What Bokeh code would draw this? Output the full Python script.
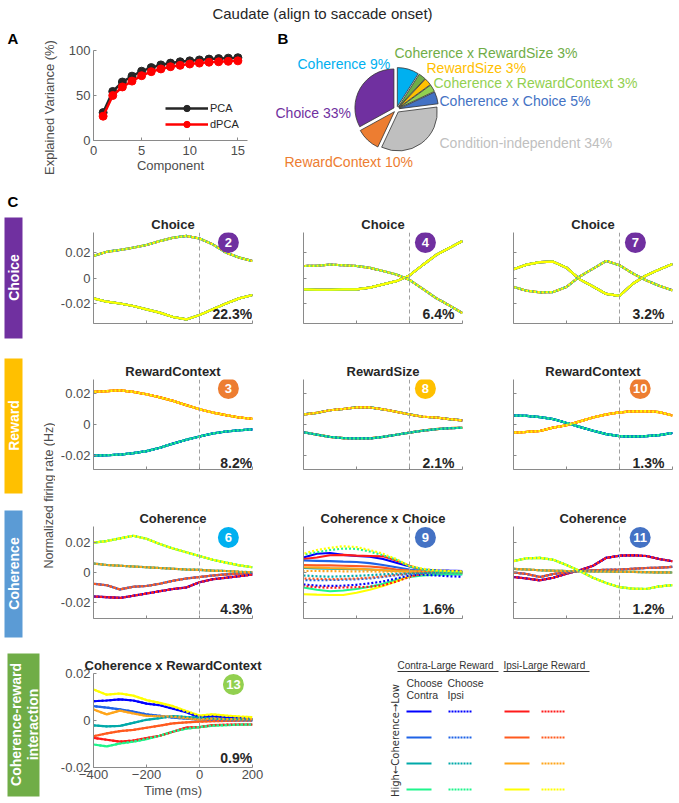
import numpy as np
from bokeh.plotting import figure
from bokeh.layouts import row, column
from bokeh.models import Range1d, FixedTicker, Span, Label, Legend, LegendItem
from bokeh.core.properties import value
from bokeh.embed import file_html
from bokeh.resources import INLINE

FONT = "Liberation Sans"

# ---------------- data ----------------
TIME_MS = [-400, -350, -300, -250, -200, -150, -100, -50, 0, 50, 100, 150, 200]

COMPONENTS = list(range(1, 16))
PCA_VAR = [31, 54.5, 65, 71.5, 77, 81, 84, 86, 87.5, 88.5, 89.5, 90.5, 91, 91.5, 92]
DPCA_VAR = [27, 50, 59.5, 66, 72, 76.5, 79.5, 82, 83.5, 85, 86, 87, 87.5, 88, 88.5]

PIE_LABELS = ["Coherence", "Coherence x RewardSize", "RewardSize", "Coherence x RewardContext",
              "Coherence x Choice", "Condition-independent", "RewardContext", "Choice"]
PIE_PCT = [9, 3, 3, 3, 5, 34, 10, 33]
PIE_COLORS = ["#00b0f0", "#70ad47", "#ffc000", "#92d050", "#4472c4", "#bfbfbf", "#ed7d31", "#7030a0"]

CONTRA_COLORS = ["#0000ff", "#1f63e6", "#00a9a9", "#1ff58c"]
IPSI_COLORS = ["#ff1a1a", "#ff5a1f", "#ffa51a", "#ffff00"]

# Choice #2
C2_CHOOSE_IPSI = [0.0173, 0.0206, 0.0220, 0.0238, 0.0259, 0.0290, 0.0316, 0.0330, 0.0310, 0.0264, 0.0199, 0.0160, 0.0133]
C2_CHOOSE_CONTRA = [-0.0160, -0.0186, -0.0200, -0.0220, -0.0246, -0.0272, -0.0306, -0.0325, -0.0290, -0.0246, -0.0200, -0.0160, -0.0133]
# Choice #4
C4_CHOOSE_IPSI = [0.0094, 0.0096, 0.0105, 0.0100, 0.0094, 0.0080, 0.0055, 0.0028, -0.0015, -0.0085, -0.0157, -0.0215, -0.0275]
C4_CHOOSE_CONTRA = [-0.0089, -0.0092, -0.0092, -0.0090, -0.0089, -0.0075, -0.0050, -0.0025, 0.0020, 0.0102, 0.0180, 0.0235, 0.0290]
# Choice #7
C7_CHOOSE_CONTRA = [0.0068, 0.0105, 0.0125, 0.0128, 0.0081, -0.0011, -0.0067, -0.0125, -0.0140, -0.0045, 0.0020, 0.0067, 0.0110]
C7_CHOOSE_IPSI = [-0.0070, -0.0100, -0.0113, -0.0110, -0.0070, 0.0012, 0.0073, 0.0134, 0.0100, 0.0036, -0.0018, -0.0061, -0.0097]
# RewardContext #3
C3_CONTRA_LARGE = [-0.0200, -0.0198, -0.0194, -0.0185, -0.0172, -0.0150, -0.0123, -0.0098, -0.0077, -0.0058, -0.0045, -0.0037, -0.0032]
C3_IPSI_LARGE = [0.0210, 0.0215, 0.0220, 0.0210, 0.0195, 0.0175, 0.0152, 0.0125, 0.0098, 0.0077, 0.0060, 0.0045, 0.0037]
# RewardSize #8
C8_LARGE = [0.0065, 0.0075, 0.0092, 0.0100, 0.0110, 0.0110, 0.0098, 0.0082, 0.0065, 0.0050, 0.0045, 0.0035, 0.0026]
C8_SMALL = [-0.0050, -0.0065, -0.0080, -0.0088, -0.0090, -0.0090, -0.0080, -0.0066, -0.0052, -0.0040, -0.0030, -0.0024, -0.0021]
# RewardContext #10
C10_CONTRA_LARGE = [0.0058, 0.0055, 0.0048, 0.0035, 0.0010, -0.0015, -0.0040, -0.0062, -0.0075, -0.0078, -0.0075, -0.0068, -0.0055]
C10_IPSI_LARGE = [-0.0052, -0.0048, -0.0042, -0.0020, -0.0005, 0.0020, 0.0045, 0.0065, 0.0078, 0.0085, 0.0086, 0.0080, 0.0058]
# Coherence #6 (levels 1..4)
C6_LEVEL1 = [-0.0160, -0.0165, -0.0170, -0.0155, -0.0140, -0.0125, -0.0110, -0.0100, -0.0065, -0.0045, -0.0035, -0.0025, -0.0013]
C6_LEVEL2 = [-0.0075, -0.0085, -0.0113, -0.0095, -0.0090, -0.0075, -0.0055, -0.0040, -0.0030, -0.0020, -0.0012, -0.0007, -0.0002]
C6_LEVEL3 = [0.0060, 0.0050, 0.0045, 0.0040, 0.0035, 0.0030, 0.0025, 0.0020, 0.0018, 0.0012, 0.0010, 0.0005, 0.0002]
C6_LEVEL4 = [0.0200, 0.0210, 0.0228, 0.0245, 0.0225, 0.0190, 0.0160, 0.0135, 0.0110, 0.0085, 0.0066, 0.0048, 0.0035]
# Coherence x Choice #9 (blue, medblue, teal, green, red, orangered, orange, yellow)
C9_CHOOSE_CONTRA = [
    [0.0100, 0.0125, 0.0130, 0.0118, 0.0110, 0.0105, 0.0090, 0.0065, 0.0040, 0.0020, 0.0015, 0.0012, 0.0010],
    [0.0080, 0.0078, 0.0076, 0.0072, 0.0070, 0.0062, 0.0050, 0.0035, 0.0020, 0.0010, 0.0005, 0.0003, 0.0002],
    [0.0030, 0.0028, 0.0025, 0.0024, 0.0022, 0.0020, 0.0015, 0.0010, 0.0008, 0.0002, -0.0005, -0.0010, -0.0012],
    [-0.0100, -0.0115, -0.0125, -0.0120, -0.0110, -0.0095, -0.0075, -0.0050, -0.0030, -0.0020, -0.0015, -0.0012, -0.0010],
    [0.0090, 0.0100, 0.0115, 0.0118, 0.0112, 0.0110, 0.0108, 0.0080, 0.0045, 0.0015, -0.0005, -0.0008, -0.0005],
    [0.0050, 0.0048, 0.0047, 0.0045, 0.0043, 0.0040, 0.0032, 0.0020, 0.0012, 0.0005, 0.0002, 0.0000, 0.0000],
    [0.0035, 0.0033, 0.0030, 0.0028, 0.0025, 0.0020, 0.0015, 0.0010, 0.0008, 0.0005, 0.0003, 0.0002, 0.0002],
    [-0.0145, -0.0148, -0.0150, -0.0150, -0.0135, -0.0115, -0.0090, -0.0060, -0.0025, -0.0010, 0.0000, 0.0002, 0.0003],
]
C9_CHOOSE_IPSI = [
    [-0.0080, -0.0088, -0.0090, -0.0088, -0.0082, -0.0072, -0.0060, -0.0040, -0.0020, -0.0015, -0.0020, -0.0025, -0.0028],
    [-0.0050, -0.0052, -0.0050, -0.0048, -0.0045, -0.0040, -0.0030, -0.0018, -0.0010, -0.0005, 0.0000, 0.0002, 0.0002],
    [-0.0020, -0.0025, -0.0028, -0.0025, -0.0022, -0.0018, -0.0012, -0.0008, -0.0005, -0.0003, -0.0002, 0.0000, 0.0000],
    [0.0120, 0.0135, 0.0150, 0.0160, 0.0158, 0.0140, 0.0115, 0.0085, 0.0040, 0.0020, 0.0010, 0.0005, 0.0003],
    [-0.0090, -0.0098, -0.0102, -0.0100, -0.0098, -0.0095, -0.0085, -0.0060, -0.0030, -0.0005, 0.0010, 0.0005, 0.0000],
    [-0.0040, -0.0042, -0.0045, -0.0043, -0.0040, -0.0035, -0.0025, -0.0015, -0.0005, 0.0005, 0.0010, 0.0008, 0.0005],
    [0.0010, 0.0010, 0.0009, 0.0008, 0.0008, 0.0007, 0.0006, 0.0005, 0.0005, 0.0008, 0.0010, 0.0008, 0.0005],
    [0.0125, 0.0150, 0.0165, 0.0175, 0.0170, 0.0150, 0.0125, 0.0090, 0.0045, 0.0025, 0.0015, 0.0010, 0.0008],
]
# Coherence #11 (levels 1..4)
C11_LEVEL1 = [-0.0030, -0.0040, -0.0052, -0.0035, -0.0008, 0.0015, 0.0045, 0.0098, 0.0112, 0.0115, 0.0110, 0.0090, 0.0075]
C11_LEVEL2 = [0.0000, -0.0010, -0.0030, -0.0010, 0.0000, 0.0010, 0.0015, 0.0018, 0.0020, 0.0025, 0.0030, 0.0032, 0.0038]
C11_LEVEL3 = [0.0024, 0.0020, 0.0015, 0.0012, 0.0010, 0.0009, 0.0008, 0.0007, 0.0005, 0.0004, 0.0002, 0.0001, 0.0000]
C11_LEVEL4 = [0.0076, 0.0095, 0.0098, 0.0085, 0.0050, 0.0010, -0.0035, -0.0070, -0.0098, -0.0108, -0.0110, -0.0093, -0.0084]
# Coherence x RewardContext #13 (per colour)
C13_BLUE = [0.0082, 0.0085, 0.0090, 0.0085, 0.0072, 0.0065, 0.0050, 0.0035, 0.0015, 0.0018, 0.0012, 0.0010, 0.0006]
C13_MEDBLUE = [0.0061, 0.0055, 0.0047, 0.0038, 0.0026, 0.0020, 0.0012, 0.0008, 0.0004, 0.0002, 0.0000, 0.0000, 0.0000]
C13_TEAL = [-0.0021, -0.0025, -0.0023, -0.0010, 0.0003, 0.0010, 0.0019, 0.0015, 0.0012, 0.0008, 0.0006, 0.0005, 0.0004]
C13_GREEN = [-0.0102, -0.0110, -0.0098, -0.0090, -0.0079, -0.0065, -0.0047, -0.0035, -0.0028, -0.0022, -0.0020, -0.0018, -0.0017]
C13_RED = [-0.0074, -0.0082, -0.0090, -0.0085, -0.0075, -0.0065, -0.0048, -0.0030, -0.0028, -0.0020, -0.0018, -0.0017, -0.0017]
C13_ORANGERED = [-0.0067, -0.0055, -0.0045, -0.0040, -0.0031, -0.0022, -0.0012, -0.0008, -0.0005, -0.0003, -0.0002, 0.0000, 0.0000]
C13_ORANGE = [0.0047, 0.0026, 0.0042, 0.0030, 0.0020, 0.0018, 0.0016, 0.0010, 0.0004, 0.0008, 0.0006, 0.0005, 0.0006]
C13_YELLOW = [0.0132, 0.0110, 0.0115, 0.0106, 0.0087, 0.0075, 0.0061, 0.0040, 0.0021, 0.0026, 0.0021, 0.0017, 0.0014]


def both_groups(contra_large, ipsi_large):
    g = [contra_large] * 4 + [ipsi_large] * 4
    return g, g


def levels(l1, l2, l3, l4):
    g = [l1, l2, l3, l4, l1, l2, l3, l4]
    return g, g


C13_ALL = [C13_BLUE, C13_MEDBLUE, C13_TEAL, C13_GREEN, C13_RED, C13_ORANGERED, C13_ORANGE, C13_YELLOW]

PANELS = [
    # (row, col, title, badge, badge colour, variance text, solid lines, dotted lines)
    (0, 0, "Choice", "2", "#7030a0", "22.3%", [C2_CHOOSE_CONTRA] * 8, [C2_CHOOSE_IPSI] * 8),
    (0, 1, "Choice", "4", "#7030a0", "6.4%", [C4_CHOOSE_CONTRA] * 8, [C4_CHOOSE_IPSI] * 8),
    (0, 2, "Choice", "7", "#7030a0", "3.2%", [C7_CHOOSE_CONTRA] * 8, [C7_CHOOSE_IPSI] * 8),
    (1, 0, "RewardContext", "3", "#ed7d31", "8.2%", *both_groups(C3_CONTRA_LARGE, C3_IPSI_LARGE)),
    (1, 1, "RewardSize", "8", "#ffc000", "2.1%",
     [C8_LARGE] * 4 + [C8_SMALL] * 4, [C8_SMALL] * 4 + [C8_LARGE] * 4),
    (1, 2, "RewardContext", "10", "#ed7d31", "1.3%", *both_groups(C10_CONTRA_LARGE, C10_IPSI_LARGE)),
    (2, 0, "Coherence", "6", "#00b0f0", "4.3%", *levels(C6_LEVEL1, C6_LEVEL2, C6_LEVEL3, C6_LEVEL4)),
    (2, 1, "Coherence x Choice", "9", "#4472c4", "1.6%", C9_CHOOSE_CONTRA, C9_CHOOSE_IPSI),
    (2, 2, "Coherence", "11", "#4472c4", "1.2%", *levels(C11_LEVEL1, C11_LEVEL2, C11_LEVEL3, C11_LEVEL4)),
    (3, 0, "Coherence x RewardContext", "13", "#92d050", "0.9%", C13_ALL, C13_ALL),
]

# ---------------- layout geometry (pixels, page origin at top-left) ----------------
ROWS = [dict(h=160, t=42, b=27, ylim=0.0357, badge_off=10, pct_off=10),
        dict(h=147, t=29, b=28, ylim=0.029, badge_off=9, pct_off=7),
        dict(h=148, t=29, b=27, ylim=0.0307, badge_off=11, pct_off=10),
        dict(h=158, t=28, b=36, ylim=0.02, badge_off=11, pct_off=10)]
COLS = [dict(w=228, l=38, r=31, badge_t=109),
        dict(w=210, l=20, r=31, badge_t=60),
        dict(w=186, l=20, r=7, badge_t=60)]
BADGE_T_2DIGIT = {"10": 78, "11": 78, "13": 128}

AXIS_GRAY = "#8a8a8a"
LABEL_GRAY = "#4d4d4d"
ALL_COLORS = CONTRA_COLORS + IPSI_COLORS
DRAW_ORDER = [0, 4, 1, 5, 2, 6, 3, 7]


def deco_fig(w, h, x0, x1):
    p = figure(width=w, height=h, x_range=Range1d(x0, x1), y_range=Range1d(0, h),
               x_axis_type=None, y_axis_type=None, toolbar_location=None,
               output_backend="svg", min_border=0, title=None, frame_align=False)
    p.outline_line_color = None
    p.background_fill_color = "white"
    p.border_fill_color = "white"
    return p


def add_text(p, xs, ys, texts, size, color, bold=False, align="left", angle=0.0, font=FONT):
    p.text(x=xs, y=ys, text=texts, text_font=value(font), text_font_size=size,
           text_color=color, text_font_style="bold" if bold else "normal",
           text_align=align, text_baseline="middle", angle=angle)


def style_axes(p, show_x_labels, show_y_labels):
    for ax in (p.xaxis, p.yaxis):
        ax.axis_line_color = AXIS_GRAY
        ax.major_tick_line_color = AXIS_GRAY
        ax.major_tick_in = 3
        ax.major_tick_out = 0
        ax.minor_tick_line_color = None
        ax.major_label_text_font = FONT
        ax.major_label_text_font_size = "13px"
        ax.major_label_text_color = LABEL_GRAY
        ax.axis_label_text_font = FONT
        ax.axis_label_text_font_size = "13px"
        ax.axis_label_text_font_style = "normal"
        ax.axis_label_text_color = LABEL_GRAY
    p.xaxis.major_label_standoff = 3
    p.yaxis.major_label_standoff = 3
    if not show_x_labels:
        p.xaxis.major_label_text_font_size = "1px"
        p.xaxis.major_label_text_color = None
        p.xaxis.major_label_standoff = 0
    if not show_y_labels:
        p.yaxis.major_label_text_font_size = "1px"
        p.yaxis.major_label_text_color = None
        p.yaxis.major_label_standoff = 0
    p.grid.visible = False
    p.outline_line_color = None
    p.background_fill_color = "white"
    p.border_fill_color = "white"


def make_panel(spec):
    r, c, title, badge, bcolor, pct, solid, dotted = spec
    rs, cs = ROWS[r], COLS[c]
    ylim = rs["ylim"]
    p = figure(width=cs["w"], height=rs["h"], x_range=Range1d(-400, 200), y_range=Range1d(-ylim, ylim),
               min_border_left=cs["l"], min_border_right=cs["r"], min_border_top=rs["t"],
               min_border_bottom=rs["b"], toolbar_location=None, output_backend="svg",
               title=title, frame_align=False)
    p.title.align = "center"
    p.title.text_font = FONT
    p.title.text_font_size = "13px"
    p.title.text_font_style = "bold"
    p.title.text_color = "#262626"
    p.title.standoff = 1
    style_axes(p, show_x_labels=(r == 3), show_y_labels=(c == 0))
    p.xaxis.ticker = FixedTicker(ticks=[-400, -200, 0, 200])
    p.yaxis.ticker = FixedTicker(ticks=[-0.02, 0, 0.02])
    p.yaxis.major_label_overrides = {-0.02: "-0.02", 0: "0", 0.02: "0.02"}
    if r == 3:
        p.xaxis.axis_label = "Time (ms)"
        p.xaxis.axis_label_standoff = 1
        p.xaxis.major_label_standoff = 2

    p.add_layout(Span(location=0, dimension="height", line_color="#a0a0a0",
                      line_dash="4 3", line_width=1))
    for i in DRAW_ORDER:
        p.line(TIME_MS, solid[i], line_color=ALL_COLORS[i], line_width=2.2)
    for k, i in enumerate(DRAW_ORDER):
        p.line(TIME_MS, dotted[i], line_color=ALL_COLORS[i], line_width=2.2,
               line_dash="2 2", line_dash_offset=k % 4)

    frame_h = rs["h"] - rs["t"] - rs["b"]
    per_px = 2 * ylim / frame_h
    by = ylim - rs["badge_off"] * per_px
    bt = BADGE_T_2DIGIT.get(badge, cs["badge_t"])
    p.scatter([bt], [by], size=21, fill_color=bcolor, line_color=None)
    p.add_layout(Label(x=bt, y=by, text=badge, text_align="center", text_baseline="middle",
                       text_font=FONT, text_font_size="13px", text_font_style="bold",
                       text_color="white"))
    py = -ylim + rs["pct_off"] * per_px
    if c == 0:
        px, palign = 199, "right"
    else:
        px, palign = 49, "left"
    p.add_layout(Label(x=px, y=py, text=pct, text_align=palign, text_baseline="middle",
                       text_font=FONT, text_font_size="14px", text_font_style="bold",
                       text_color="#262626"))
    return p


# ---------------- title strip (y = 28 - screen_y) ----------------
title_fig = deco_fig(679, 28, 0, 679)
add_text(title_fig, [322], [28 - 13], ["Caudate (align to saccade onset)"], "15px", "#262626",
         align="center")

# ---------------- panel A: label strip + plot (y = 190 - screen_y) ----------------
a_lab = deco_fig(60, 162, 0, 60)
add_text(a_lab, [7], [190 - 38], ["A"], "15px", "#000000", bold=True)
add_text(a_lab, [49], [190 - 107], ["Explained Variance (%)"], "13px", LABEL_GRAY,
         align="center", angle=np.pi / 2)

pa = figure(width=195, height=162, x_range=Range1d(0, 16), y_range=Range1d(0, 100),
            min_border_left=33, min_border_right=8, min_border_top=22, min_border_bottom=50,
            toolbar_location=None, output_backend="svg", title=None, frame_align=False)
style_axes(pa, True, True)
pa.xaxis.ticker = FixedTicker(ticks=[0, 5, 10, 15])
pa.yaxis.ticker = FixedTicker(ticks=[0, 50, 100])
pa.xaxis.axis_label = "Component"
pa.xaxis.major_label_standoff = 5
pa.xaxis.axis_label_standoff = 0
l1 = pa.line(COMPONENTS, PCA_VAR, line_color="#262626", line_width=2.5)
s1 = pa.scatter(COMPONENTS, PCA_VAR, size=8, fill_color="#262626", line_color="#262626")
l2 = pa.line(COMPONENTS, DPCA_VAR, line_color="#ff0000", line_width=2.5)
s2 = pa.scatter(COMPONENTS, DPCA_VAR, size=8, fill_color="#ff0000", line_color="#ff0000")
leg = Legend(items=[LegendItem(label="PCA", renderers=[l1, s1]),
                    LegendItem(label="dPCA", renderers=[l2, s2])],
             location=(72, 8), glyph_width=43, glyph_height=16, label_height=16, spacing=0,
             padding=0, margin=0, border_line_color=None, background_fill_alpha=0,
             label_standoff=2, label_text_font=FONT, label_text_font_size="11px",
             label_text_color="#262626")
pa.add_layout(leg)

# ---------------- panel B (pie), y = 190 - screen_y ----------------
pb = deco_fig(424, 162, 255, 679)
add_text(pb, [277], [190 - 38], ["B"], "15px", "#000000", bold=True)
pct = np.array(PIE_PCT, dtype=float)
cum = np.concatenate([[0], np.cumsum(pct)]) / pct.sum()
start = np.pi / 2 - cum[1:] * 2 * np.pi
end = np.pi / 2 - cum[:-1] * 2 * np.pi
mid = (start + end) / 2
PIE_CX, PIE_CY, PIE_R, EXPLODE = 396, 190 - 109, 39, 3
pb.wedge(x=PIE_CX + EXPLODE * np.cos(mid), y=PIE_CY + EXPLODE * np.sin(mid), radius=PIE_R,
         start_angle=start, end_angle=end, fill_color=PIE_COLORS, line_color="#333333",
         line_width=0.8)
pie_text = [f"{n} {v}%" for n, v in zip(PIE_LABELS, PIE_PCT)]
label_x = [297, 394, 426, 433, 439, 439, 284, 275]
label_y = [190 - 63, 190 - 52, 190 - 67, 190 - 82, 190 - 100, 190 - 142, 190 - 161, 190 - 112]
add_text(pb, label_x, label_y, pie_text, "14px", PIE_COLORS)

# ---------------- left decoration column, y = 803 - screen_y ----------------
side = deco_fig(55, 613, 0, 55)
add_text(side, [7], [803 - 201], ["C"], "15px", "#000000", bold=True)
side.quad(left=[4, 4, 4, 7], right=[22, 22, 22, 39],
          top=[803 - 217, 803 - 358, 803 - 510, 803 - 653],
          bottom=[803 - 338, 803 - 493, 803 - 637, 803 - 796],
          fill_color=["#7030a0", "#ffc000", "#5b9bd5", "#70ad47"], line_color=None)
add_text(side, [13, 13, 13, 15, 32],
         [803 - 277, 803 - 425, 803 - 573, 803 - 724, 803 - 724],
         ["Choice", "Reward", "Coherence", "Coherence-reward", "interaction"],
         "14px", "white", bold=True, align="center", angle=np.pi / 2)
add_text(side, [48], [803 - 495], ["Normalized firing rate (Hz)"], "12.5px", LABEL_GRAY,
         align="center", angle=np.pi / 2)

# ---------------- legend panel, y = 803 - screen_y ----------------
lg = deco_fig(396, 158, 283, 679)
add_text(lg, [397, 503], [803 - 665, 803 - 665], ["Contra-Large Reward", "Ipsi-Large Reward"],
         "10px", "#333333")
lg.segment(x0=[397, 503], x1=[498, 589], y0=[803 - 671, 803 - 671], y1=[803 - 671, 803 - 671],
           line_color="#333333", line_width=1)
add_text(lg, [406, 406, 447, 447], [803 - 682, 803 - 694, 803 - 682, 803 - 694],
         ["Choose", "Contra", "Choose", "Ipsi"], "10.5px", "#333333")
add_text(lg, [395], [803 - 740], ["High\u2190Coherence\u2192Low"], "10px", "#333333",
         align="center", angle=np.pi / 2, font="DejaVu Sans")
row_y = [803 - 711, 803 - 737, 803 - 763, 803 - 789]
lg.segment(x0=[406] * 4, x1=[431] * 4, y0=row_y, y1=row_y, line_color=CONTRA_COLORS, line_width=2)
lg.segment(x0=[448] * 4, x1=[472] * 4, y0=row_y, y1=row_y, line_color=CONTRA_COLORS, line_width=2,
           line_dash="2 1")
lg.segment(x0=[504] * 4, x1=[529] * 4, y0=row_y, y1=row_y, line_color=IPSI_COLORS, line_width=2)
lg.segment(x0=[541] * 4, x1=[564] * 4, y0=row_y, y1=row_y, line_color=IPSI_COLORS, line_width=2,
           line_dash="2 1")

# ---------------- assemble ----------------
figs = {(s[0], s[1]): make_panel(s) for s in PANELS}
grid = column(
    row(figs[(0, 0)], figs[(0, 1)], figs[(0, 2)]),
    row(figs[(1, 0)], figs[(1, 1)], figs[(1, 2)]),
    row(figs[(2, 0)], figs[(2, 1)], figs[(2, 2)]),
    row(figs[(3, 0)], lg),
)
page = column(title_fig, row(a_lab, pa, pb), row(side, grid))

open("out.html", "w").write(file_html(page, INLINE))
